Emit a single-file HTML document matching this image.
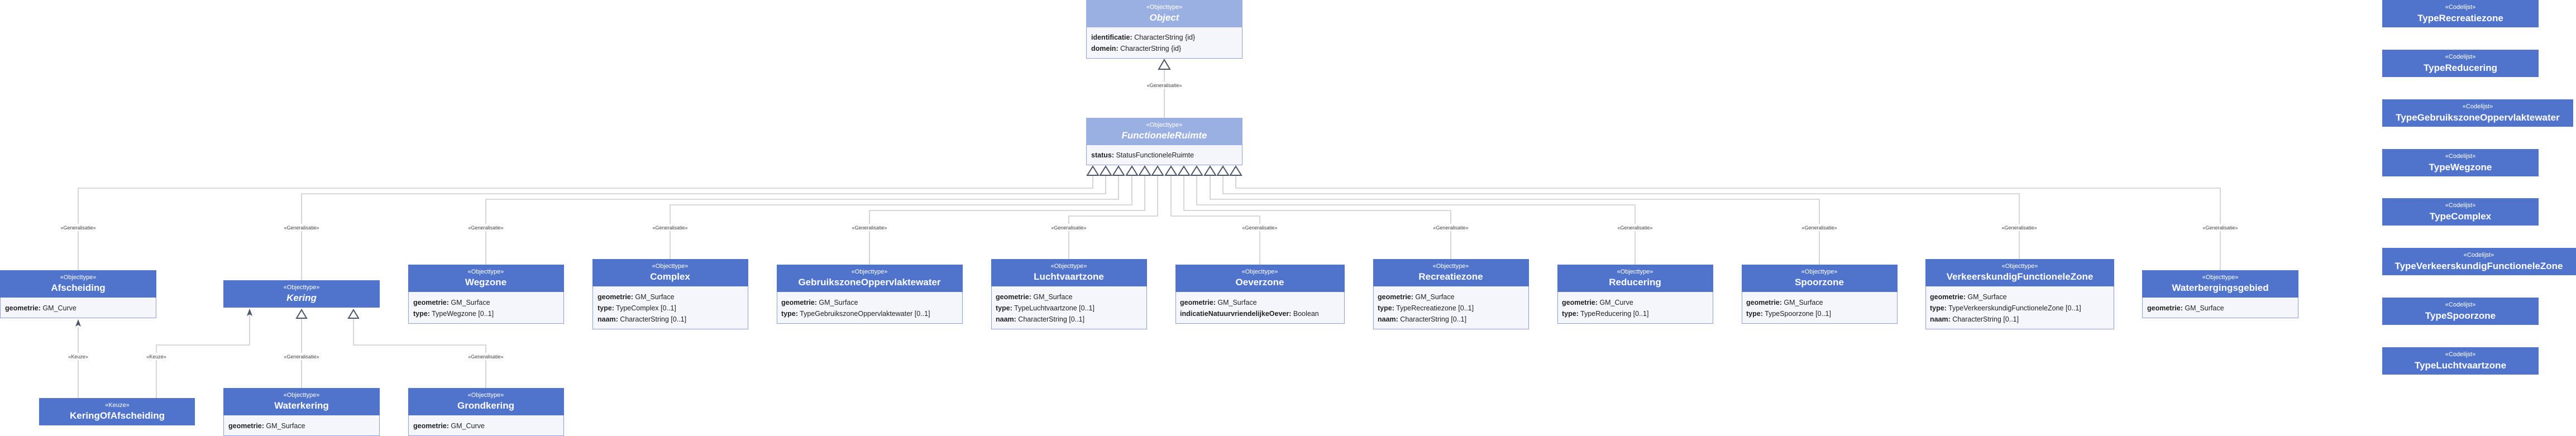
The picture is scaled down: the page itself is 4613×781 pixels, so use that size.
<!DOCTYPE html>
<html><head><meta charset="utf-8"><style>
html,body{margin:0;padding:0;background:#fff;}
svg{display:block;}
.st{font-family:"Liberation Sans",sans-serif;font-size:11px;fill:#fff;text-anchor:middle;}
.nm{font-family:"Liberation Sans",sans-serif;font-size:17px;font-weight:bold;fill:#fff;text-anchor:middle;}
.it{font-style:italic;}
.at{font-family:"Liberation Sans",sans-serif;font-size:12.5px;fill:#222;}
.at tspan.b{font-weight:bold;}
.lb{font-family:"Liberation Sans",sans-serif;font-size:9px;fill:#444;text-anchor:middle;}
.ln{stroke:#cccccc;stroke-width:1.6;fill:none;}
.tri{fill:#fff;stroke:#4a5568;stroke-width:2;}
.hd{fill:#5073cc;}
.hl{fill:#9bb0e2;}
.bd{fill:#f5f6fb;stroke:#8aa0e0;stroke-width:1;}
</style></head><body>
<svg width="4613" height="781" viewBox="0 0 4613 781" xmlns="http://www.w3.org/2000/svg">
<!-- connectors -->
<g class="ln">
<line x1="2085" y1="125" x2="2085" y2="211"/>
<path d="M1957 315 V337 H140 V484"/>
<path d="M1980 315 V347 H540 V502"/>
<path d="M2003 315 V357 H870 V474"/>
<path d="M2027 315 V367 H1200 V464"/>
<path d="M2050 315 V377 H1557 V474"/>
<path d="M2073 315 V387 H1914 V464"/>
<path d="M2097 315 V387 H2256 V474"/>
<path d="M2120 315 V377 H2598 V464"/>
<path d="M2143 315 V367 H2928 V474"/>
<path d="M2167 315 V357 H3258 V474"/>
<path d="M2190 315 V347 H3616 V464"/>
<path d="M2213 315 V337 H3976 V484"/>
<path d="M140 586 V713"/>
<path d="M280 713 V618 H447 V553"/>
<path d="M540 571 V695"/>
<path d="M633 571 V618 H870 V695"/>
</g>
<!-- labels with white bg -->
<g>
<rect x="2055" y="147" width="60" height="12" fill="#fff"/><text class="lb" x="2085" y="156">«Generalisatie»</text>
</g>
<g fill="#fff">
<rect x="110" y="401" width="60" height="13"/><rect x="510" y="401" width="60" height="13"/><rect x="840" y="401" width="60" height="13"/><rect x="1170" y="401" width="60" height="13"/><rect x="1527" y="401" width="60" height="13"/><rect x="1884" y="401" width="60" height="13"/><rect x="2226" y="401" width="60" height="13"/><rect x="2568" y="401" width="60" height="13"/><rect x="2898" y="401" width="60" height="13"/><rect x="3228" y="401" width="60" height="13"/><rect x="3586" y="401" width="60" height="13"/><rect x="3946" y="401" width="60" height="13"/>
<rect x="120" y="632" width="40" height="13"/><rect x="260" y="632" width="40" height="13"/><rect x="510" y="632" width="60" height="13"/><rect x="840" y="632" width="60" height="13"/>
</g>
<g class="lb">
<text x="140" y="411">«Generalisatie»</text><text x="540" y="411">«Generalisatie»</text><text x="870" y="411">«Generalisatie»</text><text x="1200" y="411">«Generalisatie»</text><text x="1557" y="411">«Generalisatie»</text><text x="1914" y="411">«Generalisatie»</text><text x="2256" y="411">«Generalisatie»</text><text x="2598" y="411">«Generalisatie»</text><text x="2928" y="411">«Generalisatie»</text><text x="3258" y="411">«Generalisatie»</text><text x="3616" y="411">«Generalisatie»</text><text x="3976" y="411">«Generalisatie»</text>
<text x="140" y="642">«Keuze»</text><text x="280" y="642">«Keuze»</text><text x="540" y="642">«Generalisatie»</text><text x="870" y="642">«Generalisatie»</text>
</g>
<!-- triangles -->
<g class="tri">
<path d="M2085 107 L2095 124 L2075 124 Z"/>
<path d="M1957 298 L1967 314 L1947 314 Z"/><path d="M1980 298 L1990 314 L1970 314 Z"/><path d="M2003 298 L2013 314 L1993 314 Z"/><path d="M2027 298 L2037 314 L2017 314 Z"/><path d="M2050 298 L2060 314 L2040 314 Z"/><path d="M2073 298 L2083 314 L2063 314 Z"/><path d="M2097 298 L2107 314 L2087 314 Z"/><path d="M2120 298 L2130 314 L2110 314 Z"/><path d="M2143 298 L2153 314 L2133 314 Z"/><path d="M2167 298 L2177 314 L2157 314 Z"/><path d="M2190 298 L2200 314 L2180 314 Z"/><path d="M2213 298 L2223 314 L2203 314 Z"/>
<path d="M540 555 L549 570 L531 570 Z"/><path d="M633 555 L642 570 L624 570 Z"/>
</g>
<g fill="#4a5568">
<path d="M140 572 L145 585 L140 582 L135 585 Z"/>
<path d="M447 553 L452 566 L447 563 L442 566 Z"/>
</g>
<!-- Object -->
<rect class="bd" x="1945.5" y="0.5" width="279" height="104"/>
<rect class="hl" x="1945" y="0" width="280" height="49"/>
<text class="st" x="2085" y="16">«Objecttype»</text><text class="nm it" x="2085" y="37">Object</text>
<text class="at" x="1954" y="71"><tspan class="b">identificatie:</tspan> CharacterString {id}</text>
<text class="at" x="1954" y="91"><tspan class="b">domein:</tspan> CharacterString {id}</text>
<!-- FunctioneleRuimte -->
<rect class="bd" x="1945.5" y="211.5" width="279" height="84"/>
<rect class="hl" x="1945" y="211" width="280" height="49"/>
<text class="st" x="2085" y="227">«Objecttype»</text><text class="nm it" x="2085" y="248">FunctioneleRuimte</text>
<text class="at" x="1954" y="282"><tspan class="b">status:</tspan> StatusFunctioneleRuimte</text>
<!-- Afscheiding -->
<rect class="bd" x="0.5" y="484.5" width="279" height="85"/><rect class="hd" x="0" y="484" width="280" height="49"/>
<text class="st" x="140" y="500">«Objecttype»</text><text class="nm" x="140" y="521">Afscheiding</text>
<text class="at" x="9" y="556"><tspan class="b">geometrie:</tspan> GM_Curve</text>
<!-- Kering -->
<rect class="hd" x="400" y="502" width="280" height="49"/>
<text class="st" x="540" y="518">«Objecttype»</text><text class="nm it" x="540" y="539">Kering</text>
<!-- KeringOfAfscheiding -->
<rect class="hd" x="70" y="713" width="279" height="49"/>
<text class="st" x="210" y="729">«Keuze»</text><text class="nm" x="210" y="750">KeringOfAfscheiding</text>
<!-- Waterkering -->
<rect class="bd" x="400.5" y="695.5" width="279" height="85"/><rect class="hd" x="400" y="695" width="280" height="49"/>
<text class="st" x="540" y="711">«Objecttype»</text><text class="nm" x="540" y="732">Waterkering</text>
<text class="at" x="409" y="767"><tspan class="b">geometrie:</tspan> GM_Surface</text>
<!-- Grondkering -->
<rect class="bd" x="731.5" y="695.5" width="278" height="85"/><rect class="hd" x="731" y="695" width="279" height="49"/>
<text class="st" x="870" y="711">«Objecttype»</text><text class="nm" x="870" y="732">Grondkering</text>
<text class="at" x="740" y="767"><tspan class="b">geometrie:</tspan> GM_Curve</text>
<!-- Wegzone -->
<rect class="bd" x="731.5" y="474.5" width="278" height="105"/><rect class="hd" x="731" y="474" width="279" height="49"/>
<text class="st" x="870" y="490">«Objecttype»</text><text class="nm" x="870" y="511">Wegzone</text>
<text class="at" x="740" y="546"><tspan class="b">geometrie:</tspan> GM_Surface</text>
<text class="at" x="740" y="566"><tspan class="b">type:</tspan> TypeWegzone [0..1]</text>
<!-- Complex -->
<rect class="bd" x="1061.5" y="464.5" width="278" height="125"/><rect class="hd" x="1061" y="464" width="279" height="49"/>
<text class="st" x="1200" y="480">«Objecttype»</text><text class="nm" x="1200" y="501">Complex</text>
<text class="at" x="1070" y="536"><tspan class="b">geometrie:</tspan> GM_Surface</text>
<text class="at" x="1070" y="556"><tspan class="b">type:</tspan> TypeComplex [0..1]</text>
<text class="at" x="1070" y="576"><tspan class="b">naam:</tspan> CharacterString [0..1]</text>
<!-- Gebruiks -->
<rect class="bd" x="1391.5" y="474.5" width="332" height="105"/><rect class="hd" x="1391" y="474" width="333" height="49"/>
<text class="st" x="1557" y="490">«Objecttype»</text><text class="nm" x="1557" y="511">GebruikszoneOppervlaktewater</text>
<text class="at" x="1399" y="546"><tspan class="b">geometrie:</tspan> GM_Surface</text>
<text class="at" x="1399" y="566"><tspan class="b">type:</tspan> TypeGebruikszoneOppervlaktewater [0..1]</text>
<!-- Luchtvaartzone -->
<rect class="bd" x="1775.5" y="464.5" width="278" height="125"/><rect class="hd" x="1775" y="464" width="279" height="49"/>
<text class="st" x="1914" y="480">«Objecttype»</text><text class="nm" x="1914" y="501">Luchtvaartzone</text>
<text class="at" x="1783" y="536"><tspan class="b">geometrie:</tspan> GM_Surface</text>
<text class="at" x="1783" y="556"><tspan class="b">type:</tspan> TypeLuchtvaartzone [0..1]</text>
<text class="at" x="1783" y="576"><tspan class="b">naam:</tspan> CharacterString [0..1]</text>
<!-- Oeverzone -->
<rect class="bd" x="2105.5" y="474.5" width="302" height="105"/><rect class="hd" x="2105" y="474" width="303" height="49"/>
<text class="st" x="2256" y="490">«Objecttype»</text><text class="nm" x="2256" y="511">Oeverzone</text>
<text class="at" x="2113" y="546"><tspan class="b">geometrie:</tspan> GM_Surface</text>
<text class="at" x="2113" y="566"><tspan class="b">indicatieNatuurvriendelijkeOever:</tspan> Boolean</text>
<!-- Recreatiezone -->
<rect class="bd" x="2459.5" y="464.5" width="278" height="125"/><rect class="hd" x="2459" y="464" width="279" height="49"/>
<text class="st" x="2598" y="480">«Objecttype»</text><text class="nm" x="2598" y="501">Recreatiezone</text>
<text class="at" x="2467" y="536"><tspan class="b">geometrie:</tspan> GM_Surface</text>
<text class="at" x="2467" y="556"><tspan class="b">type:</tspan> TypeRecreatiezone [0..1]</text>
<text class="at" x="2467" y="576"><tspan class="b">naam:</tspan> CharacterString [0..1]</text>
<!-- Reducering -->
<rect class="bd" x="2789.5" y="474.5" width="278" height="105"/><rect class="hd" x="2789" y="474" width="279" height="49"/>
<text class="st" x="2928" y="490">«Objecttype»</text><text class="nm" x="2928" y="511">Reducering</text>
<text class="at" x="2797" y="546"><tspan class="b">geometrie:</tspan> GM_Curve</text>
<text class="at" x="2797" y="566"><tspan class="b">type:</tspan> TypeReducering [0..1]</text>
<!-- Spoorzone -->
<rect class="bd" x="3119.5" y="474.5" width="278" height="105"/><rect class="hd" x="3119" y="474" width="279" height="49"/>
<text class="st" x="3258" y="490">«Objecttype»</text><text class="nm" x="3258" y="511">Spoorzone</text>
<text class="at" x="3127" y="546"><tspan class="b">geometrie:</tspan> GM_Surface</text>
<text class="at" x="3127" y="566"><tspan class="b">type:</tspan> TypeSpoorzone [0..1]</text>
<!-- Verkeers -->
<rect class="bd" x="3448.5" y="464.5" width="337" height="125"/><rect class="hd" x="3448" y="464" width="338" height="49"/>
<text class="st" x="3617" y="480">«Objecttype»</text><text class="nm" x="3617" y="501">VerkeerskundigFunctioneleZone</text>
<text class="at" x="3456" y="536"><tspan class="b">geometrie:</tspan> GM_Surface</text>
<text class="at" x="3456" y="556"><tspan class="b">type:</tspan> TypeVerkeerskundigFunctioneleZone [0..1]</text>
<text class="at" x="3456" y="576"><tspan class="b">naam:</tspan> CharacterString [0..1]</text>
<!-- Waterbergingsgebied -->
<rect class="bd" x="3836.5" y="484.5" width="279" height="85"/><rect class="hd" x="3836" y="484" width="280" height="49"/>
<text class="st" x="3976" y="500">«Objecttype»</text><text class="nm" x="3976" y="521">Waterbergingsgebied</text>
<text class="at" x="3845" y="556"><tspan class="b">geometrie:</tspan> GM_Surface</text>
<!-- Codelijsten -->
<g>
<rect class="hd" x="4266" y="0" width="280" height="49"/><text class="st" x="4406" y="16">«Codelijst»</text><text class="nm" x="4406" y="38">TypeRecreatiezone</text>
<rect class="hd" x="4266" y="89" width="280" height="49"/><text class="st" x="4406" y="105">«Codelijst»</text><text class="nm" x="4406" y="127">TypeReducering</text>
<rect class="hd" x="4266" y="178" width="342" height="49"/><text class="st" x="4437" y="194">«Codelijst»</text><text class="nm" x="4437" y="216">TypeGebruikszoneOppervlaktewater</text>
<rect class="hd" x="4266" y="267" width="280" height="49"/><text class="st" x="4406" y="283">«Codelijst»</text><text class="nm" x="4406" y="305">TypeWegzone</text>
<rect class="hd" x="4266" y="355" width="280" height="49"/><text class="st" x="4406" y="371">«Codelijst»</text><text class="nm" x="4406" y="393">TypeComplex</text>
<rect class="hd" x="4266" y="444" width="347" height="49"/><text class="st" x="4439" y="460">«Codelijst»</text><text class="nm" x="4439" y="482">TypeVerkeerskundigFunctioneleZone</text>
<rect class="hd" x="4266" y="533" width="280" height="49"/><text class="st" x="4406" y="549">«Codelijst»</text><text class="nm" x="4406" y="571">TypeSpoorzone</text>
<rect class="hd" x="4266" y="622" width="280" height="49"/><text class="st" x="4406" y="638">«Codelijst»</text><text class="nm" x="4406" y="660">TypeLuchtvaartzone</text>
</g>
</svg>
</body></html>
